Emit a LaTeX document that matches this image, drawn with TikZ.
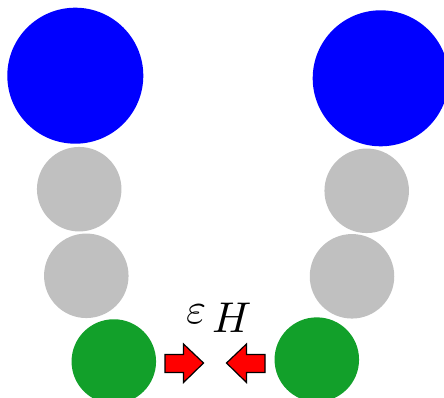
\documentclass[tikz,border=0pt]{standalone}
\usepackage{amsmath}
\usepackage{graphicx}
\definecolor{ballblue}{HTML}{0000FF}
\definecolor{ballgray}{HTML}{C0C0C0}
\definecolor{ballgreen}{HTML}{12A02A}
\definecolor{arrowred}{HTML}{FF0000}
\newcommand{\biglbl}[1]{\scalebox{4.3}{$#1$}}
\begin{document}
\begin{tikzpicture}[x=1pt,y=-1pt,
  ball/.style={circle,inner sep=0pt,minimum size=#1},
  bigball/.style={ball=136pt,fill=ballblue},
  midball/.style={ball=84.5pt,fill=ballgray},
  endball/.style={ball=84.5pt,fill=ballgreen},
  redarrow/.style={fill=arrowred,draw=black,line width=1.2pt,line join=miter},
  lbl/.style={inner sep=0pt,anchor=base west}]
\useasboundingbox (0,0) rectangle (444,398);
\clip (0,0) rectangle (444,398);
\node[bigball] (bl) at (75.3,75.7) {};
\node[bigball] (br) at (380.7,78.3) {};
\node[midball] (gl1) at (79.2,189.2) {};
\node[midball] (gl2) at (86.3,275.8) {};
\node[midball] (gr1) at (366.7,190.8) {};
\node[midball] (gr2) at (352,276.3) {};
\node[endball] (el) at (113.8,361.5) {};
\node[endball] (er) at (316.8,359.6) {};
\node[lbl] (eps) at (186,323) {\biglbl{\varepsilon}};
\node[lbl] (sub) at (212,332) {\biglbl{H}};
\draw[redarrow] (165,354.5) -- (183.5,354.5) -- (183.5,344) -- (203.5,363) -- (183.5,382.5) -- (183.5,372.5) -- (165,372.5) -- cycle;
\draw[redarrow] (265,354.5) -- (246.5,354.5) -- (246.5,344) -- (226.5,363) -- (246.5,382.5) -- (246.5,372.5) -- (265,372.5) -- cycle;
\end{tikzpicture}
\end{document}
